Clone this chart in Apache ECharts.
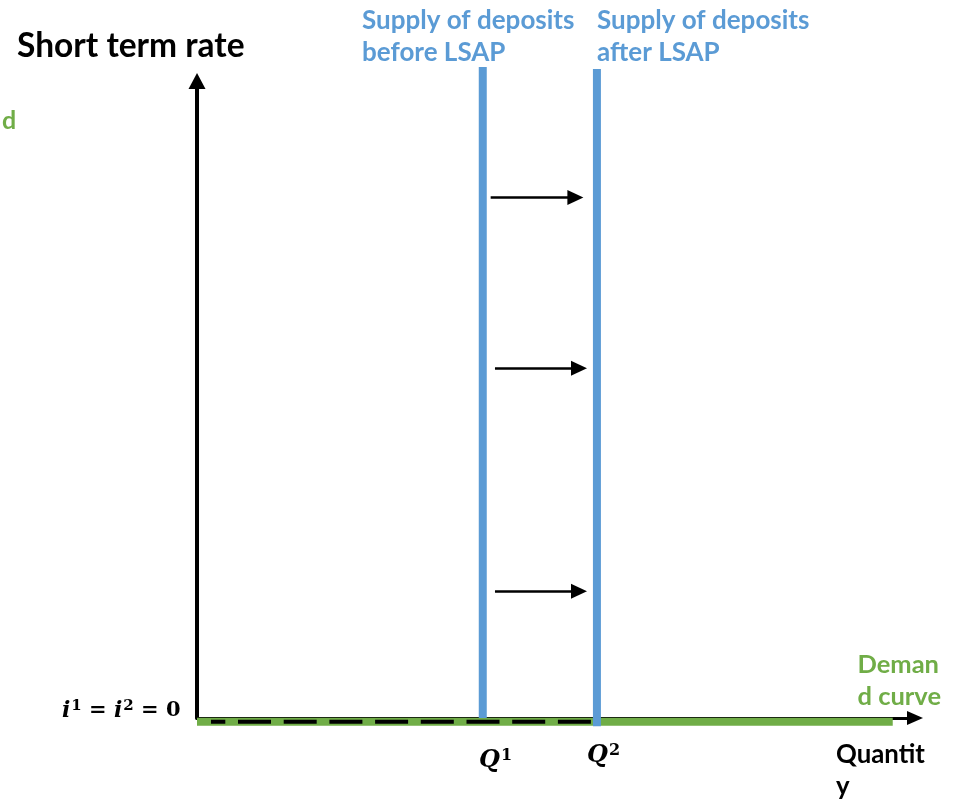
<!DOCTYPE html>
<html>
<head>
<meta charset="utf-8">
<script src="https://cdn.jsdelivr.net/npm/echarts@6/dist/echarts.min.js"></script>
<style>
html,body{margin:0;padding:0;background:#fff;}
#chart{width:959px;height:803px;}
</style>
</head>
<body>
<div id="chart"></div>
<script>
// ---- data (axis units: 0..100 on both axes) ----
const xRange = [0, 100];
const yRange = [0, 100];
const supplyBefore = [[39.8, 0], [39.8, 102.2]];
const supplyAfter = [[55.7, -1.3], [55.7, 101.9]];
const demandCurve = [[0, -0.6], [96.9, -0.6]];
const zeroRateDashed = [[1.95, -0.6], [55.0, -0.6]];
const shiftArrows = [
  [[40.9, 81.7], [52.7, 81.7]],
  [[41.5, 54.9], [53.2, 54.9]],
  [[41.5, 19.9], [53.2, 19.9]]
];
const yAxisTitle = 'Short term rate';
const supplyBeforeLabel = ['Supply of deposits', 'before LSAP'];
const supplyAfterLabel = ['Supply of deposits', 'after LSAP'];
const demandLabel = ['Deman', 'd curve'];
const demandFragment = 'd';
const xAxisTitle = ['Quantit', 'y'];
const rateLabel = ['i', '1', ' = ', 'i', '2', ' = 0'];
const qLabels = [['Q', '1'], ['Q', '2']];

const BLUE = '#5B9BD5';
const GREEN = '#70AD47';
const SANS = 'Lato';

const chart = echarts.init(document.getElementById('chart'));

function txt(text, x, y, size, color, align) {
  return {
    type: 'text', z: 10,
    style: {text: text, x: x, y: y, fill: color, font: 'bold ' + size + 'px ' + SANS, verticalAlign: 'middle', align: align || 'left'}
  };
}

const MATH = 'DejaVu Serif';
const mathRich = {
  it: {fontFamily: MATH, fontStyle: 'italic', fontWeight: 'bold', fontSize: 22, color: '#000'},
  n: {fontFamily: MATH, fontWeight: 'bold', fontSize: 21, color: '#000'},
  sup: {fontFamily: MATH, fontWeight: 'bold', fontSize: 15, color: '#000', verticalAlign: 'top', padding: [0, 0, 10, 1]},
  qit: {fontFamily: MATH, fontStyle: 'italic', fontWeight: 'bold', fontSize: 24, color: '#000'},
  qsup: {fontFamily: MATH, fontWeight: 'bold', fontSize: 16, color: '#000', verticalAlign: 'top', padding: [0, 0, 11, 1]}
};

const option = {
  animation: false,
  backgroundColor: '#fff',
  grid: {left: 197, top: 81, width: 718, height: 637},
  xAxis: {
    type: 'value', min: xRange[0], max: xRange[1],
    axisLine: {show: true, onZero: false, symbol: ['none', 'triangle'], symbolSize: [14, 16], lineStyle: {color: '#000', width: 3}},
    axisTick: {show: false}, axisLabel: {show: false}, splitLine: {show: false}
  },
  yAxis: {
    type: 'value', min: yRange[0], max: yRange[1],
    axisLine: {show: true, onZero: false, symbol: ['none', 'triangle'], symbolSize: [17, 16], lineStyle: {color: '#000', width: 4}},
    axisTick: {show: false}, axisLabel: {show: false}, splitLine: {show: false}
  },
  series: [
    {type: 'line', name: 'Demand', data: demandCurve, clip: false, symbol: 'none', z: 3,
     lineStyle: {color: GREEN, width: 8, cap: 'butt'}},
    {type: 'line', name: 'Zero rate', data: zeroRateDashed, clip: false, symbol: 'none', z: 4,
     lineStyle: {color: '#000', width: 4, type: [33, 12.7], dashOffset: 18.7, cap: 'butt'}},
    {type: 'line', name: 'Supply before', data: supplyBefore, clip: false, symbol: 'none', z: 5,
     lineStyle: {color: BLUE, width: 8, cap: 'butt'}},
    {type: 'line', name: 'Supply after', data: supplyAfter, clip: false, symbol: 'none', z: 5,
     lineStyle: {color: BLUE, width: 8, cap: 'butt'},
     markLine: {
       silent: true, symbol: ['none', 'triangle'], symbolSize: [15, 16], animation: false,
       label: {show: false},
       lineStyle: {color: '#000', width: 2.5, type: 'solid'},
       data: shiftArrows.map(a => [{coord: a[0]}, {coord: a[1]}])
     }}
  ],
  graphic: [
    txt(yAxisTitle, 17, 46, 33.5, '#000'),
    txt(supplyBeforeLabel[0], 362, 21, 26, BLUE),
    txt(supplyBeforeLabel[1], 362, 53, 26, BLUE),
    txt(supplyAfterLabel[0], 597, 21, 26, BLUE),
    txt(supplyAfterLabel[1], 597, 53, 26, BLUE),
    txt(demandFragment, 2, 121, 25, GREEN),
    txt(demandLabel[0], 939, 665, 25.5, GREEN, 'right'),
    txt(demandLabel[1], 941, 697, 25.5, GREEN, 'right'),
    txt(xAxisTitle[0], 836, 755, 25.8, '#000'),
    txt(xAxisTitle[1], 836, 787, 25.8, '#000'),
    {type: 'text', z: 10, style: {
      x: 62, y: 711, verticalAlign: 'middle',
      text: '{it|' + rateLabel[0] + '}{sup|' + rateLabel[1] + '}{n|' + rateLabel[2] + '}{it|' + rateLabel[3] + '}{sup|' + rateLabel[4] + '}{n|' + rateLabel[5] + '}',
      rich: mathRich}},
    {type: 'text', z: 10, style: {x: 479, y: 761, verticalAlign: 'middle',
      text: '{qit|' + qLabels[0][0] + '}{qsup|' + qLabels[0][1] + '}', rich: mathRich}},
    {type: 'text', z: 10, style: {x: 587, y: 756, verticalAlign: 'middle',
      text: '{qit|' + qLabels[1][0] + '}{qsup|' + qLabels[1][1] + '}', rich: mathRich}}
  ]
};
chart.setOption(option);
</script>
</body>
</html>
